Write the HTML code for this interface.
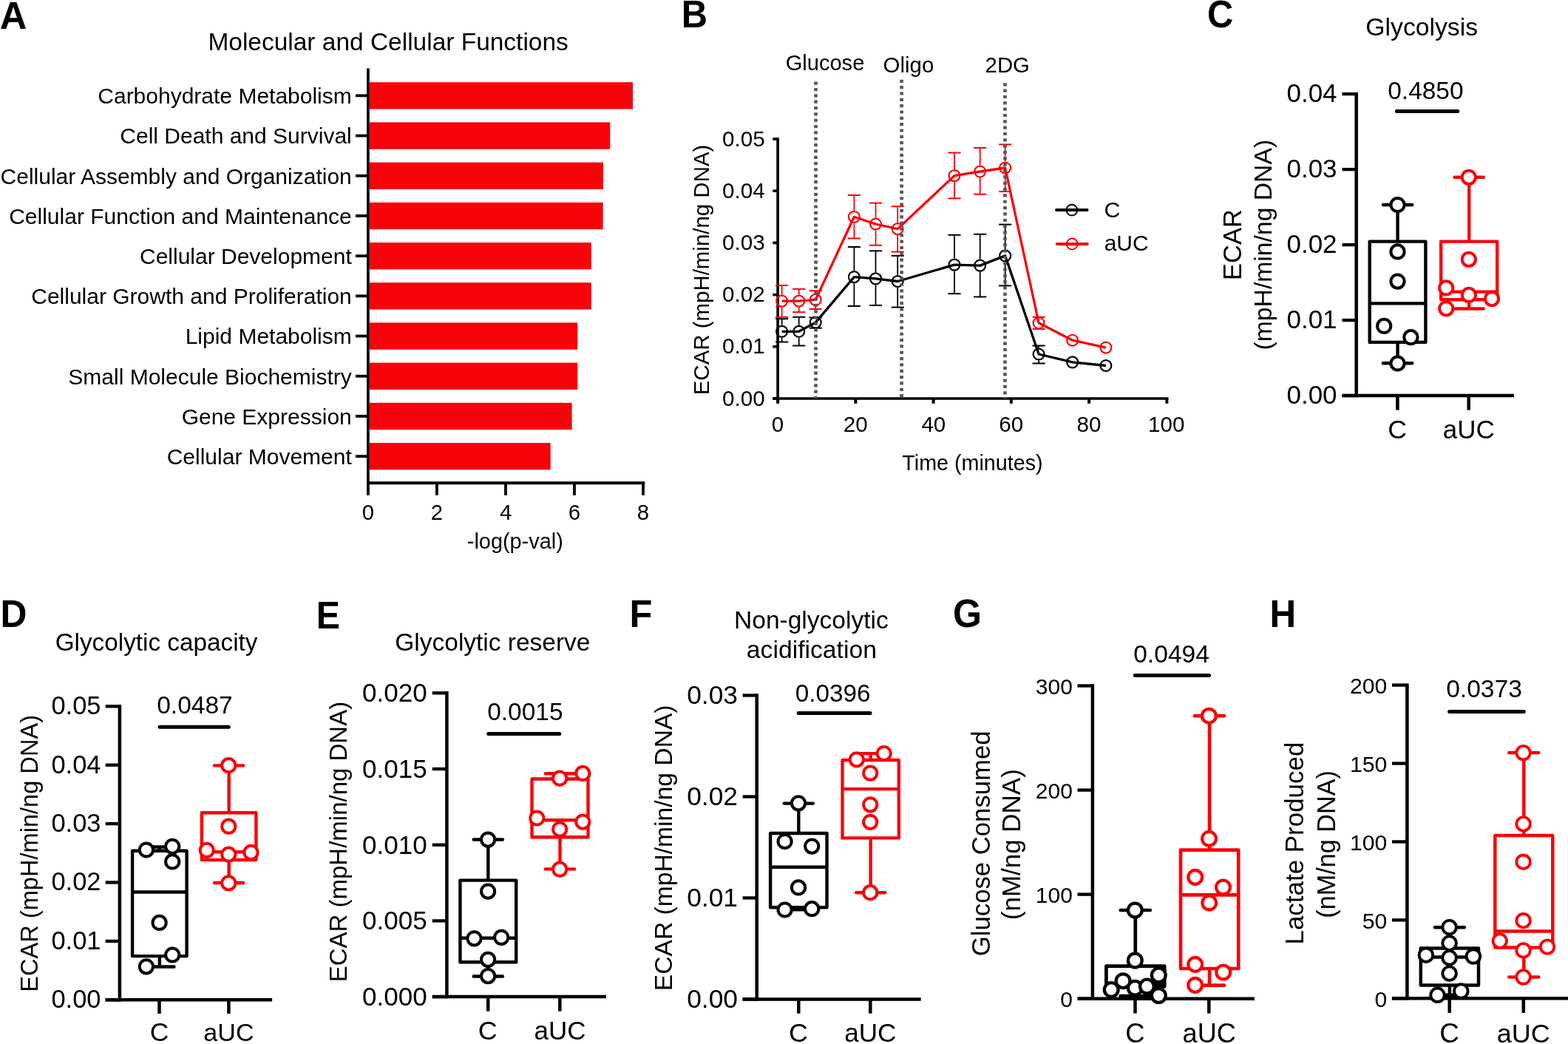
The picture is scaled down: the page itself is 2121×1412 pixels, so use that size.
<!DOCTYPE html>
<html><head><meta charset="utf-8"><title>Figure</title>
<style>html,body{margin:0;padding:0;background:#fff;overflow:hidden;}svg{display:block;}text{font-family:'Liberation Sans', Arial, Helvetica, sans-serif;}</style>
</head><body>
<svg width="2121" height="1412" viewBox="0 0 2121 1412">
<rect width="2121" height="1412" fill="#fff"/>
<rect x="499.80" y="111.20" width="356.20" height="36.30" fill="#f8030a"/>
<line x1="481.00" y1="129.35" x2="497.90" y2="129.35" stroke="#000" stroke-width="3.8" stroke-linecap="butt"/>
<rect x="499.80" y="165.40" width="325.50" height="36.30" fill="#f8030a"/>
<line x1="481.00" y1="183.55" x2="497.90" y2="183.55" stroke="#000" stroke-width="3.8" stroke-linecap="butt"/>
<rect x="499.80" y="219.60" width="316.20" height="36.30" fill="#f8030a"/>
<line x1="481.00" y1="237.75" x2="497.90" y2="237.75" stroke="#000" stroke-width="3.8" stroke-linecap="butt"/>
<rect x="499.80" y="273.80" width="315.80" height="36.30" fill="#f8030a"/>
<line x1="481.00" y1="291.95" x2="497.90" y2="291.95" stroke="#000" stroke-width="3.8" stroke-linecap="butt"/>
<rect x="499.80" y="328.00" width="300.00" height="36.30" fill="#f8030a"/>
<line x1="481.00" y1="346.15" x2="497.90" y2="346.15" stroke="#000" stroke-width="3.8" stroke-linecap="butt"/>
<rect x="499.80" y="382.20" width="300.00" height="36.30" fill="#f8030a"/>
<line x1="481.00" y1="400.35" x2="497.90" y2="400.35" stroke="#000" stroke-width="3.8" stroke-linecap="butt"/>
<rect x="499.80" y="436.40" width="281.50" height="36.30" fill="#f8030a"/>
<line x1="481.00" y1="454.55" x2="497.90" y2="454.55" stroke="#000" stroke-width="3.8" stroke-linecap="butt"/>
<rect x="499.80" y="490.60" width="281.50" height="36.30" fill="#f8030a"/>
<line x1="481.00" y1="508.75" x2="497.90" y2="508.75" stroke="#000" stroke-width="3.8" stroke-linecap="butt"/>
<rect x="499.80" y="544.80" width="273.80" height="36.30" fill="#f8030a"/>
<line x1="481.00" y1="562.95" x2="497.90" y2="562.95" stroke="#000" stroke-width="3.8" stroke-linecap="butt"/>
<rect x="499.80" y="599.00" width="244.90" height="36.30" fill="#f8030a"/>
<line x1="481.00" y1="617.15" x2="497.90" y2="617.15" stroke="#000" stroke-width="3.8" stroke-linecap="butt"/>
<line x1="497.90" y1="92.40" x2="497.90" y2="655.20" stroke="#000" stroke-width="3.8" stroke-linecap="butt"/>
<line x1="496.00" y1="653.30" x2="872.30" y2="653.30" stroke="#000" stroke-width="4" stroke-linecap="butt"/>
<line x1="497.90" y1="653.00" x2="497.90" y2="669.80" stroke="#000" stroke-width="3.8" stroke-linecap="butt"/>
<line x1="590.93" y1="653.00" x2="590.93" y2="669.80" stroke="#000" stroke-width="3.8" stroke-linecap="butt"/>
<line x1="683.96" y1="653.00" x2="683.96" y2="669.80" stroke="#000" stroke-width="3.8" stroke-linecap="butt"/>
<line x1="776.99" y1="653.00" x2="776.99" y2="669.80" stroke="#000" stroke-width="3.8" stroke-linecap="butt"/>
<line x1="870.02" y1="653.00" x2="870.02" y2="669.80" stroke="#000" stroke-width="3.8" stroke-linecap="butt"/>
<line x1="1052.10" y1="186.20" x2="1052.10" y2="540.80" stroke="#000" stroke-width="3.7" stroke-linecap="butt"/>
<line x1="1045.10" y1="539.00" x2="1580.50" y2="539.00" stroke="#000" stroke-width="3.6" stroke-linecap="butt"/>
<line x1="1045.30" y1="539.00" x2="1052.10" y2="539.00" stroke="#000" stroke-width="3.6" stroke-linecap="butt"/>
<line x1="1045.30" y1="468.80" x2="1052.10" y2="468.80" stroke="#000" stroke-width="3.6" stroke-linecap="butt"/>
<line x1="1045.30" y1="398.60" x2="1052.10" y2="398.60" stroke="#000" stroke-width="3.6" stroke-linecap="butt"/>
<line x1="1045.30" y1="328.40" x2="1052.10" y2="328.40" stroke="#000" stroke-width="3.6" stroke-linecap="butt"/>
<line x1="1045.30" y1="258.20" x2="1052.10" y2="258.20" stroke="#000" stroke-width="3.6" stroke-linecap="butt"/>
<line x1="1045.30" y1="188.00" x2="1052.10" y2="188.00" stroke="#000" stroke-width="3.6" stroke-linecap="butt"/>
<line x1="1052.10" y1="539.00" x2="1052.10" y2="545.80" stroke="#000" stroke-width="4.0" stroke-linecap="butt"/>
<line x1="1157.35" y1="539.00" x2="1157.35" y2="545.80" stroke="#000" stroke-width="4.0" stroke-linecap="butt"/>
<line x1="1262.60" y1="539.00" x2="1262.60" y2="545.80" stroke="#000" stroke-width="4.0" stroke-linecap="butt"/>
<line x1="1367.85" y1="539.00" x2="1367.85" y2="545.80" stroke="#000" stroke-width="4.0" stroke-linecap="butt"/>
<line x1="1473.10" y1="539.00" x2="1473.10" y2="545.80" stroke="#000" stroke-width="4.0" stroke-linecap="butt"/>
<line x1="1578.35" y1="539.00" x2="1578.35" y2="545.80" stroke="#000" stroke-width="4.0" stroke-linecap="butt"/>
<g stroke="#000" stroke-width="1.8"><line x1="1057.60" y1="431.20" x2="1057.60" y2="439.75"/><line x1="1057.60" y1="456.85" x2="1057.60" y2="462.50"/><line x1="1049.00" y1="431.20" x2="1066.20" y2="431.20" stroke-width="2"/><line x1="1049.00" y1="462.50" x2="1066.20" y2="462.50" stroke-width="2"/><line x1="1080.70" y1="428.80" x2="1080.70" y2="439.75"/><line x1="1080.70" y1="456.85" x2="1080.70" y2="467.50"/><line x1="1072.10" y1="428.80" x2="1089.30" y2="428.80" stroke-width="2"/><line x1="1072.10" y1="467.50" x2="1089.30" y2="467.50" stroke-width="2"/><line x1="1094.60" y1="429.50" x2="1111.80" y2="429.50" stroke-width="2"/><line x1="1094.60" y1="443.70" x2="1111.80" y2="443.70" stroke-width="2"/><line x1="1155.40" y1="334.00" x2="1155.40" y2="366.05"/><line x1="1155.40" y1="383.15" x2="1155.40" y2="414.00"/><line x1="1146.80" y1="334.00" x2="1164.00" y2="334.00" stroke-width="2"/><line x1="1146.80" y1="414.00" x2="1164.00" y2="414.00" stroke-width="2"/><line x1="1184.50" y1="339.30" x2="1184.50" y2="368.35"/><line x1="1184.50" y1="385.45" x2="1184.50" y2="413.00"/><line x1="1175.90" y1="339.30" x2="1193.10" y2="339.30" stroke-width="2"/><line x1="1175.90" y1="413.00" x2="1193.10" y2="413.00" stroke-width="2"/><line x1="1214.20" y1="345.90" x2="1214.20" y2="371.95"/><line x1="1214.20" y1="389.05" x2="1214.20" y2="415.60"/><line x1="1205.60" y1="345.90" x2="1222.80" y2="345.90" stroke-width="2"/><line x1="1205.60" y1="415.60" x2="1222.80" y2="415.60" stroke-width="2"/><line x1="1291.00" y1="317.80" x2="1291.00" y2="349.55"/><line x1="1291.00" y1="366.65" x2="1291.00" y2="397.20"/><line x1="1282.40" y1="317.80" x2="1299.60" y2="317.80" stroke-width="2"/><line x1="1282.40" y1="397.20" x2="1299.60" y2="397.20" stroke-width="2"/><line x1="1325.70" y1="316.80" x2="1325.70" y2="350.55"/><line x1="1325.70" y1="367.65" x2="1325.70" y2="401.50"/><line x1="1317.10" y1="316.80" x2="1334.30" y2="316.80" stroke-width="2"/><line x1="1317.10" y1="401.50" x2="1334.30" y2="401.50" stroke-width="2"/><line x1="1359.70" y1="303.60" x2="1359.70" y2="337.35"/><line x1="1359.70" y1="354.45" x2="1359.70" y2="386.40"/><line x1="1351.10" y1="303.60" x2="1368.30" y2="303.60" stroke-width="2"/><line x1="1351.10" y1="386.40" x2="1368.30" y2="386.40" stroke-width="2"/><line x1="1405.10" y1="467.50" x2="1405.10" y2="470.45"/><line x1="1405.10" y1="487.55" x2="1405.10" y2="491.50"/><line x1="1396.50" y1="467.50" x2="1413.70" y2="467.50" stroke-width="2"/><line x1="1396.50" y1="491.50" x2="1413.70" y2="491.50" stroke-width="2"/></g>
<g stroke="#f8030a" stroke-width="1.8"><line x1="1057.60" y1="386.00" x2="1057.60" y2="398.55"/><line x1="1057.60" y1="415.65" x2="1057.60" y2="428.80"/><line x1="1049.00" y1="386.00" x2="1066.20" y2="386.00" stroke-width="2"/><line x1="1049.00" y1="428.80" x2="1066.20" y2="428.80" stroke-width="2"/><line x1="1080.70" y1="390.90" x2="1080.70" y2="398.55"/><line x1="1080.70" y1="415.65" x2="1080.70" y2="422.20"/><line x1="1072.10" y1="390.90" x2="1089.30" y2="390.90" stroke-width="2"/><line x1="1072.10" y1="422.20" x2="1089.30" y2="422.20" stroke-width="2"/><line x1="1103.20" y1="393.20" x2="1103.20" y2="396.85"/><line x1="1103.20" y1="413.95" x2="1103.20" y2="418.00"/><line x1="1094.60" y1="393.20" x2="1111.80" y2="393.20" stroke-width="2"/><line x1="1094.60" y1="418.00" x2="1111.80" y2="418.00" stroke-width="2"/><line x1="1155.40" y1="264.00" x2="1155.40" y2="284.75"/><line x1="1155.40" y1="301.85" x2="1155.40" y2="322.40"/><line x1="1146.80" y1="264.00" x2="1164.00" y2="264.00" stroke-width="2"/><line x1="1146.80" y1="322.40" x2="1164.00" y2="322.40" stroke-width="2"/><line x1="1184.50" y1="274.60" x2="1184.50" y2="294.45"/><line x1="1184.50" y1="311.55" x2="1184.50" y2="331.70"/><line x1="1175.90" y1="274.60" x2="1193.10" y2="274.60" stroke-width="2"/><line x1="1175.90" y1="331.70" x2="1193.10" y2="331.70" stroke-width="2"/><line x1="1214.20" y1="279.20" x2="1214.20" y2="301.05"/><line x1="1214.20" y1="318.15" x2="1214.20" y2="340.60"/><line x1="1205.60" y1="279.20" x2="1222.80" y2="279.20" stroke-width="2"/><line x1="1205.60" y1="340.60" x2="1222.80" y2="340.60" stroke-width="2"/><line x1="1291.00" y1="206.60" x2="1291.00" y2="229.05"/><line x1="1291.00" y1="246.15" x2="1291.00" y2="268.30"/><line x1="1282.40" y1="206.60" x2="1299.60" y2="206.60" stroke-width="2"/><line x1="1282.40" y1="268.30" x2="1299.60" y2="268.30" stroke-width="2"/><line x1="1325.70" y1="200.00" x2="1325.70" y2="223.45"/><line x1="1325.70" y1="240.55" x2="1325.70" y2="262.70"/><line x1="1317.10" y1="200.00" x2="1334.30" y2="200.00" stroke-width="2"/><line x1="1317.10" y1="262.70" x2="1334.30" y2="262.70" stroke-width="2"/><line x1="1359.70" y1="195.40" x2="1359.70" y2="218.45"/><line x1="1359.70" y1="235.55" x2="1359.70" y2="259.00"/><line x1="1351.10" y1="195.40" x2="1368.30" y2="195.40" stroke-width="2"/><line x1="1351.10" y1="259.00" x2="1368.30" y2="259.00" stroke-width="2"/><line x1="1396.50" y1="428.80" x2="1413.70" y2="428.80" stroke-width="2"/><line x1="1396.50" y1="445.00" x2="1413.70" y2="445.00" stroke-width="2"/></g>
<polyline points="1057.60,448.30 1080.70,448.30 1103.20,436.10 1155.40,374.60 1184.50,376.90 1214.20,380.50 1291.00,358.10 1325.70,359.10 1359.70,345.90 1405.10,479.00 1450.70,489.90 1495.90,494.50" fill="none" stroke="#000" stroke-width="3.3" stroke-linejoin="round"/>
<circle cx="1057.60" cy="448.30" r="7.45" stroke="#000" stroke-width="2.2" fill="none"/>
<circle cx="1080.70" cy="448.30" r="7.45" stroke="#000" stroke-width="2.2" fill="none"/>
<circle cx="1103.20" cy="436.10" r="7.45" stroke="#000" stroke-width="2.2" fill="none"/>
<circle cx="1155.40" cy="374.60" r="7.45" stroke="#000" stroke-width="2.2" fill="none"/>
<circle cx="1184.50" cy="376.90" r="7.45" stroke="#000" stroke-width="2.2" fill="none"/>
<circle cx="1214.20" cy="380.50" r="7.45" stroke="#000" stroke-width="2.2" fill="none"/>
<circle cx="1291.00" cy="358.10" r="7.45" stroke="#000" stroke-width="2.2" fill="none"/>
<circle cx="1325.70" cy="359.10" r="7.45" stroke="#000" stroke-width="2.2" fill="none"/>
<circle cx="1359.70" cy="345.90" r="7.45" stroke="#000" stroke-width="2.2" fill="none"/>
<circle cx="1405.10" cy="479.00" r="7.45" stroke="#000" stroke-width="2.2" fill="none"/>
<circle cx="1450.70" cy="489.90" r="7.45" stroke="#000" stroke-width="2.2" fill="none"/>
<circle cx="1495.90" cy="494.50" r="7.45" stroke="#000" stroke-width="2.2" fill="none"/>
<polyline points="1057.60,407.10 1080.70,407.10 1103.20,405.40 1155.40,293.30 1184.50,303.00 1214.20,309.60 1291.00,237.60 1325.70,232.00 1359.70,227.00 1405.10,436.80 1450.70,460.20 1495.90,470.10" fill="none" stroke="#f8030a" stroke-width="3.3" stroke-linejoin="round"/>
<circle cx="1057.60" cy="407.10" r="7.45" stroke="#f8030a" stroke-width="2.2" fill="none"/>
<circle cx="1080.70" cy="407.10" r="7.45" stroke="#f8030a" stroke-width="2.2" fill="none"/>
<circle cx="1103.20" cy="405.40" r="7.45" stroke="#f8030a" stroke-width="2.2" fill="none"/>
<circle cx="1155.40" cy="293.30" r="7.45" stroke="#f8030a" stroke-width="2.2" fill="none"/>
<circle cx="1184.50" cy="303.00" r="7.45" stroke="#f8030a" stroke-width="2.2" fill="none"/>
<circle cx="1214.20" cy="309.60" r="7.45" stroke="#f8030a" stroke-width="2.2" fill="none"/>
<circle cx="1291.00" cy="237.60" r="7.45" stroke="#f8030a" stroke-width="2.2" fill="none"/>
<circle cx="1325.70" cy="232.00" r="7.45" stroke="#f8030a" stroke-width="2.2" fill="none"/>
<circle cx="1359.70" cy="227.00" r="7.45" stroke="#f8030a" stroke-width="2.2" fill="none"/>
<circle cx="1405.10" cy="436.80" r="7.45" stroke="#f8030a" stroke-width="2.2" fill="none"/>
<circle cx="1450.70" cy="460.20" r="7.45" stroke="#f8030a" stroke-width="2.2" fill="none"/>
<circle cx="1495.90" cy="470.10" r="7.45" stroke="#f8030a" stroke-width="2.2" fill="none"/>
<line x1="1103.50" y1="110.60" x2="1103.50" y2="539.00" stroke="#575757" stroke-width="4.7" stroke-linecap="butt" stroke-dasharray="4.2 4.14"/>
<line x1="1219.60" y1="107.70" x2="1219.60" y2="539.00" stroke="#575757" stroke-width="4.7" stroke-linecap="butt" stroke-dasharray="4.2 4.14"/>
<line x1="1359.50" y1="112.20" x2="1359.50" y2="539.00" stroke="#575757" stroke-width="4.7" stroke-linecap="butt" stroke-dasharray="4.2 4.14"/>
<line x1="1429.00" y1="284.10" x2="1470.60" y2="284.10" stroke="#000" stroke-width="4" stroke-linecap="round"/>
<circle cx="1449.90" cy="284.10" r="7.4" stroke="#000" stroke-width="2" fill="none"/>
<line x1="1429.70" y1="330.00" x2="1470.90" y2="330.00" stroke="#f8030a" stroke-width="4" stroke-linecap="round"/>
<circle cx="1450.20" cy="330.00" r="7.4" stroke="#f8030a" stroke-width="2" fill="none"/>
<line x1="1834.70" y1="124.90" x2="1834.70" y2="537.35" stroke="#000" stroke-width="4.5" stroke-linecap="butt"/>
<line x1="1815.70" y1="535.10" x2="2047.90" y2="535.10" stroke="#000" stroke-width="4.5" stroke-linecap="butt"/>
<line x1="1815.50" y1="535.10" x2="1834.70" y2="535.10" stroke="#000" stroke-width="4.3" stroke-linecap="butt"/>
<line x1="1815.50" y1="433.10" x2="1834.70" y2="433.10" stroke="#000" stroke-width="4.3" stroke-linecap="butt"/>
<line x1="1815.50" y1="331.10" x2="1834.70" y2="331.10" stroke="#000" stroke-width="4.3" stroke-linecap="butt"/>
<line x1="1815.50" y1="229.10" x2="1834.70" y2="229.10" stroke="#000" stroke-width="4.3" stroke-linecap="butt"/>
<line x1="1815.50" y1="127.10" x2="1834.70" y2="127.10" stroke="#000" stroke-width="4.3" stroke-linecap="butt"/>
<line x1="1890.40" y1="535.10" x2="1890.40" y2="554.60" stroke="#000" stroke-width="4.5" stroke-linecap="butt"/>
<line x1="1986.70" y1="535.10" x2="1986.70" y2="554.60" stroke="#000" stroke-width="4.5" stroke-linecap="butt"/>
<line x1="1889.40" y1="150.40" x2="1971.80" y2="150.40" stroke="#000" stroke-width="5" stroke-linecap="round"/>
<g stroke="#000" stroke-width="4.4"><line x1="1890.55" y1="277.00" x2="1890.55" y2="326.60"/><line x1="1890.55" y1="462.90" x2="1890.55" y2="491.30"/><line x1="1870.95" y1="277.00" x2="1910.15" y2="277.00" stroke-linecap="round"/><line x1="1870.95" y1="491.30" x2="1910.15" y2="491.30" stroke-linecap="round"/><rect x="1852.70" y="326.60" width="75.70" height="136.30" fill="none" stroke-linejoin="round"/><line x1="1852.70" y1="410.40" x2="1928.40" y2="410.40"/></g>
<circle cx="1890.50" cy="277.00" r="9.1" stroke="#000" stroke-width="4.0" fill="#fff"/>
<circle cx="1890.50" cy="340.40" r="9.1" stroke="#000" stroke-width="4.0" fill="#fff"/>
<circle cx="1890.50" cy="380.60" r="9.1" stroke="#000" stroke-width="4.0" fill="#fff"/>
<circle cx="1872.20" cy="440.90" r="9.1" stroke="#000" stroke-width="4.0" fill="#fff"/>
<circle cx="1908.40" cy="456.20" r="9.1" stroke="#000" stroke-width="4.0" fill="#fff"/>
<circle cx="1890.50" cy="491.50" r="9.1" stroke="#000" stroke-width="4.0" fill="#fff"/>
<g stroke="#f8030a" stroke-width="4.4"><line x1="1987.20" y1="239.80" x2="1987.20" y2="326.60"/><line x1="1987.20" y1="405.20" x2="1987.20" y2="417.50"/><line x1="1967.60" y1="239.80" x2="2006.80" y2="239.80" stroke-linecap="round"/><line x1="1967.60" y1="417.50" x2="2006.80" y2="417.50" stroke-linecap="round"/><rect x="1949.20" y="326.60" width="76.00" height="78.60" fill="none" stroke-linejoin="round"/><line x1="1949.20" y1="394.60" x2="2025.20" y2="394.60"/></g>
<circle cx="1986.80" cy="239.80" r="9.1" stroke="#f8030a" stroke-width="4.0" fill="#fff"/>
<circle cx="1986.80" cy="350.80" r="9.1" stroke="#f8030a" stroke-width="4.0" fill="#fff"/>
<circle cx="1956.20" cy="389.40" r="9.1" stroke="#f8030a" stroke-width="4.0" fill="#fff"/>
<circle cx="1986.90" cy="398.90" r="9.1" stroke="#f8030a" stroke-width="4.0" fill="#fff"/>
<circle cx="2018.00" cy="404.10" r="9.1" stroke="#f8030a" stroke-width="4.0" fill="#fff"/>
<circle cx="1956.20" cy="417.30" r="9.1" stroke="#f8030a" stroke-width="4.0" fill="#fff"/>
<line x1="161.90" y1="953.10" x2="161.90" y2="1354.55" stroke="#000" stroke-width="4.5" stroke-linecap="butt"/>
<line x1="142.40" y1="1352.30" x2="368.10" y2="1352.30" stroke="#000" stroke-width="4.5" stroke-linecap="butt"/>
<line x1="142.70" y1="1352.30" x2="161.90" y2="1352.30" stroke="#000" stroke-width="4.3" stroke-linecap="butt"/>
<line x1="142.70" y1="1272.90" x2="161.90" y2="1272.90" stroke="#000" stroke-width="4.3" stroke-linecap="butt"/>
<line x1="142.70" y1="1193.50" x2="161.90" y2="1193.50" stroke="#000" stroke-width="4.3" stroke-linecap="butt"/>
<line x1="142.70" y1="1114.10" x2="161.90" y2="1114.10" stroke="#000" stroke-width="4.3" stroke-linecap="butt"/>
<line x1="142.70" y1="1034.70" x2="161.90" y2="1034.70" stroke="#000" stroke-width="4.3" stroke-linecap="butt"/>
<line x1="142.70" y1="955.30" x2="161.90" y2="955.30" stroke="#000" stroke-width="4.3" stroke-linecap="butt"/>
<line x1="215.50" y1="1352.30" x2="215.50" y2="1371.00" stroke="#000" stroke-width="4.5" stroke-linecap="butt"/>
<line x1="309.40" y1="1352.30" x2="309.40" y2="1371.00" stroke="#000" stroke-width="4.5" stroke-linecap="butt"/>
<line x1="216.00" y1="983.20" x2="309.30" y2="983.20" stroke="#000" stroke-width="5" stroke-linecap="round"/>
<g stroke="#000" stroke-width="4.4"><line x1="215.85" y1="1145.50" x2="215.85" y2="1150.70"/><line x1="215.85" y1="1293.10" x2="215.85" y2="1307.50"/><line x1="196.25" y1="1145.50" x2="235.45" y2="1145.50" stroke-linecap="round"/><line x1="196.25" y1="1307.50" x2="235.45" y2="1307.50" stroke-linecap="round"/><rect x="179.10" y="1150.70" width="73.50" height="142.40" fill="none" stroke-linejoin="round"/><line x1="179.10" y1="1206.50" x2="252.60" y2="1206.50"/></g>
<circle cx="197.90" cy="1149.50" r="9.1" stroke="#000" stroke-width="4.0" fill="#fff"/>
<circle cx="233.20" cy="1144.80" r="9.1" stroke="#000" stroke-width="4.0" fill="#fff"/>
<circle cx="233.20" cy="1165.40" r="9.1" stroke="#000" stroke-width="4.0" fill="#fff"/>
<circle cx="215.60" cy="1247.90" r="9.1" stroke="#000" stroke-width="4.0" fill="#fff"/>
<circle cx="233.20" cy="1291.50" r="9.1" stroke="#000" stroke-width="4.0" fill="#fff"/>
<circle cx="197.90" cy="1307.30" r="9.1" stroke="#000" stroke-width="4.0" fill="#fff"/>
<g stroke="#f8030a" stroke-width="4.4"><line x1="309.65" y1="1035.40" x2="309.65" y2="1099.30"/><line x1="309.65" y1="1163.00" x2="309.65" y2="1194.00"/><line x1="290.05" y1="1035.40" x2="329.25" y2="1035.40" stroke-linecap="round"/><line x1="290.05" y1="1194.00" x2="329.25" y2="1194.00" stroke-linecap="round"/><rect x="272.90" y="1099.30" width="73.50" height="63.70" fill="none" stroke-linejoin="round"/><line x1="272.90" y1="1152.20" x2="346.40" y2="1152.20"/></g>
<circle cx="309.30" cy="1035.20" r="9.1" stroke="#f8030a" stroke-width="4.0" fill="#fff"/>
<circle cx="309.30" cy="1117.70" r="9.1" stroke="#f8030a" stroke-width="4.0" fill="#fff"/>
<circle cx="279.70" cy="1149.90" r="9.1" stroke="#f8030a" stroke-width="4.0" fill="#fff"/>
<circle cx="309.30" cy="1155.60" r="9.1" stroke="#f8030a" stroke-width="4.0" fill="#fff"/>
<circle cx="339.50" cy="1152.90" r="9.1" stroke="#f8030a" stroke-width="4.0" fill="#fff"/>
<circle cx="309.30" cy="1194.30" r="9.1" stroke="#f8030a" stroke-width="4.0" fill="#fff"/>
<line x1="604.40" y1="935.10" x2="604.40" y2="1350.35" stroke="#000" stroke-width="4.5" stroke-linecap="butt"/>
<line x1="584.80" y1="1348.10" x2="819.90" y2="1348.10" stroke="#000" stroke-width="4.5" stroke-linecap="butt"/>
<line x1="584.80" y1="1348.10" x2="604.40" y2="1348.10" stroke="#000" stroke-width="4.3" stroke-linecap="butt"/>
<line x1="584.80" y1="1245.40" x2="604.40" y2="1245.40" stroke="#000" stroke-width="4.3" stroke-linecap="butt"/>
<line x1="584.80" y1="1142.70" x2="604.40" y2="1142.70" stroke="#000" stroke-width="4.3" stroke-linecap="butt"/>
<line x1="584.80" y1="1040.00" x2="604.40" y2="1040.00" stroke="#000" stroke-width="4.3" stroke-linecap="butt"/>
<line x1="584.80" y1="937.30" x2="604.40" y2="937.30" stroke="#000" stroke-width="4.3" stroke-linecap="butt"/>
<line x1="660.20" y1="1348.10" x2="660.20" y2="1367.70" stroke="#000" stroke-width="4.5" stroke-linecap="butt"/>
<line x1="757.30" y1="1348.10" x2="757.30" y2="1367.70" stroke="#000" stroke-width="4.5" stroke-linecap="butt"/>
<line x1="660.70" y1="992.40" x2="756.80" y2="992.40" stroke="#000" stroke-width="5" stroke-linecap="round"/>
<g stroke="#000" stroke-width="4.4"><line x1="660.30" y1="1135.50" x2="660.30" y2="1190.60"/><line x1="660.30" y1="1301.30" x2="660.30" y2="1320.50"/><line x1="640.70" y1="1135.50" x2="679.90" y2="1135.50" stroke-linecap="round"/><line x1="640.70" y1="1320.50" x2="679.90" y2="1320.50" stroke-linecap="round"/><rect x="622.40" y="1190.60" width="75.80" height="110.70" fill="none" stroke-linejoin="round"/><line x1="622.40" y1="1268.80" x2="698.20" y2="1268.80"/></g>
<circle cx="660.10" cy="1135.60" r="9.1" stroke="#000" stroke-width="4.0" fill="#fff"/>
<circle cx="660.10" cy="1205.60" r="9.1" stroke="#000" stroke-width="4.0" fill="#fff"/>
<circle cx="641.50" cy="1269.30" r="9.1" stroke="#000" stroke-width="4.0" fill="#fff"/>
<circle cx="678.20" cy="1267.80" r="9.1" stroke="#000" stroke-width="4.0" fill="#fff"/>
<circle cx="660.10" cy="1297.80" r="9.1" stroke="#000" stroke-width="4.0" fill="#fff"/>
<circle cx="660.10" cy="1320.10" r="9.1" stroke="#000" stroke-width="4.0" fill="#fff"/>
<g stroke="#f8030a" stroke-width="4.4"><line x1="757.50" y1="1046.20" x2="757.50" y2="1053.50"/><line x1="757.50" y1="1132.30" x2="757.50" y2="1175.40"/><line x1="737.90" y1="1046.20" x2="777.10" y2="1046.20" stroke-linecap="round"/><line x1="737.90" y1="1175.40" x2="777.10" y2="1175.40" stroke-linecap="round"/><rect x="719.50" y="1053.50" width="76.00" height="78.80" fill="none" stroke-linejoin="round"/><line x1="719.50" y1="1109.20" x2="795.50" y2="1109.20"/></g>
<circle cx="757.20" cy="1052.70" r="9.1" stroke="#f8030a" stroke-width="4.0" fill="#fff"/>
<circle cx="788.30" cy="1045.90" r="9.1" stroke="#f8030a" stroke-width="4.0" fill="#fff"/>
<circle cx="726.30" cy="1106.50" r="9.1" stroke="#f8030a" stroke-width="4.0" fill="#fff"/>
<circle cx="788.30" cy="1111.60" r="9.1" stroke="#f8030a" stroke-width="4.0" fill="#fff"/>
<circle cx="757.20" cy="1121.60" r="9.1" stroke="#f8030a" stroke-width="4.0" fill="#fff"/>
<circle cx="757.20" cy="1175.70" r="9.1" stroke="#f8030a" stroke-width="4.0" fill="#fff"/>
<line x1="1023.70" y1="938.30" x2="1023.70" y2="1353.65" stroke="#000" stroke-width="4.5" stroke-linecap="butt"/>
<line x1="1004.60" y1="1351.40" x2="1245.70" y2="1351.40" stroke="#000" stroke-width="4.5" stroke-linecap="butt"/>
<line x1="1004.60" y1="1351.40" x2="1023.70" y2="1351.40" stroke="#000" stroke-width="4.3" stroke-linecap="butt"/>
<line x1="1004.60" y1="1214.43" x2="1023.70" y2="1214.43" stroke="#000" stroke-width="4.3" stroke-linecap="butt"/>
<line x1="1004.60" y1="1077.47" x2="1023.70" y2="1077.47" stroke="#000" stroke-width="4.3" stroke-linecap="butt"/>
<line x1="1004.60" y1="940.50" x2="1023.70" y2="940.50" stroke="#000" stroke-width="4.3" stroke-linecap="butt"/>
<line x1="1080.30" y1="1351.40" x2="1080.30" y2="1370.70" stroke="#000" stroke-width="4.5" stroke-linecap="butt"/>
<line x1="1177.30" y1="1351.40" x2="1177.30" y2="1370.70" stroke="#000" stroke-width="4.5" stroke-linecap="butt"/>
<line x1="1080.20" y1="964.50" x2="1177.00" y2="964.50" stroke="#000" stroke-width="5" stroke-linecap="round"/>
<g stroke="#000" stroke-width="4.4"><line x1="1080.30" y1="1086.60" x2="1080.30" y2="1127.00"/><line x1="1080.30" y1="1227.30" x2="1080.30" y2="1230.40"/><line x1="1060.70" y1="1086.60" x2="1099.90" y2="1086.60" stroke-linecap="round"/><line x1="1060.70" y1="1230.40" x2="1099.90" y2="1230.40" stroke-linecap="round"/><rect x="1042.10" y="1127.00" width="76.40" height="100.30" fill="none" stroke-linejoin="round"/><line x1="1042.10" y1="1172.70" x2="1118.50" y2="1172.70"/></g>
<circle cx="1080.00" cy="1086.30" r="9.1" stroke="#000" stroke-width="4.0" fill="#fff"/>
<circle cx="1061.60" cy="1138.00" r="9.1" stroke="#000" stroke-width="4.0" fill="#fff"/>
<circle cx="1098.20" cy="1144.60" r="9.1" stroke="#000" stroke-width="4.0" fill="#fff"/>
<circle cx="1080.00" cy="1200.40" r="9.1" stroke="#000" stroke-width="4.0" fill="#fff"/>
<circle cx="1061.60" cy="1230.50" r="9.1" stroke="#000" stroke-width="4.0" fill="#fff"/>
<circle cx="1098.20" cy="1229.20" r="9.1" stroke="#000" stroke-width="4.0" fill="#fff"/>
<g stroke="#f8030a" stroke-width="4.4"><line x1="1177.65" y1="1019.10" x2="1177.65" y2="1028.00"/><line x1="1177.65" y1="1133.40" x2="1177.65" y2="1207.20"/><line x1="1158.05" y1="1019.10" x2="1197.25" y2="1019.10" stroke-linecap="round"/><line x1="1158.05" y1="1207.20" x2="1197.25" y2="1207.20" stroke-linecap="round"/><rect x="1139.50" y="1028.00" width="76.30" height="105.40" fill="none" stroke-linejoin="round"/><line x1="1139.50" y1="1067.10" x2="1215.80" y2="1067.10"/></g>
<circle cx="1158.80" cy="1027.30" r="9.1" stroke="#f8030a" stroke-width="4.0" fill="#fff"/>
<circle cx="1195.70" cy="1019.00" r="9.1" stroke="#f8030a" stroke-width="4.0" fill="#fff"/>
<circle cx="1177.20" cy="1045.60" r="9.1" stroke="#f8030a" stroke-width="4.0" fill="#fff"/>
<circle cx="1177.20" cy="1088.30" r="9.1" stroke="#f8030a" stroke-width="4.0" fill="#fff"/>
<circle cx="1177.20" cy="1111.80" r="9.1" stroke="#f8030a" stroke-width="4.0" fill="#fff"/>
<circle cx="1177.20" cy="1207.20" r="9.1" stroke="#f8030a" stroke-width="4.0" fill="#fff"/>
<line x1="1477.90" y1="925.30" x2="1477.90" y2="1352.95" stroke="#000" stroke-width="4.5" stroke-linecap="butt"/>
<line x1="1457.70" y1="1350.70" x2="1696.80" y2="1350.70" stroke="#000" stroke-width="4.5" stroke-linecap="butt"/>
<line x1="1457.50" y1="1350.70" x2="1477.90" y2="1350.70" stroke="#000" stroke-width="4.3" stroke-linecap="butt"/>
<line x1="1457.50" y1="1209.63" x2="1477.90" y2="1209.63" stroke="#000" stroke-width="4.3" stroke-linecap="butt"/>
<line x1="1457.50" y1="1068.57" x2="1477.90" y2="1068.57" stroke="#000" stroke-width="4.3" stroke-linecap="butt"/>
<line x1="1457.50" y1="927.50" x2="1477.90" y2="927.50" stroke="#000" stroke-width="4.3" stroke-linecap="butt"/>
<line x1="1535.50" y1="1350.70" x2="1535.50" y2="1370.60" stroke="#000" stroke-width="4.5" stroke-linecap="butt"/>
<line x1="1635.30" y1="1350.70" x2="1635.30" y2="1370.60" stroke="#000" stroke-width="4.5" stroke-linecap="butt"/>
<line x1="1535.30" y1="913.40" x2="1635.50" y2="913.40" stroke="#000" stroke-width="5" stroke-linecap="round"/>
<g stroke="#000" stroke-width="4.7"><line x1="1535.80" y1="1231.00" x2="1535.80" y2="1306.60"/><line x1="1535.80" y1="1334.40" x2="1535.80" y2="1347.20"/><line x1="1515.80" y1="1231.00" x2="1555.80" y2="1231.00" stroke-linecap="round"/><line x1="1515.80" y1="1347.20" x2="1555.80" y2="1347.20" stroke-linecap="round"/><rect x="1496.40" y="1306.60" width="78.80" height="27.80" fill="none" stroke-linejoin="round"/><line x1="1496.40" y1="1331.00" x2="1575.20" y2="1331.00"/></g>
<circle cx="1535.30" cy="1231.00" r="9.4" stroke="#000" stroke-width="4.3" fill="#fff"/>
<circle cx="1535.30" cy="1299.00" r="9.4" stroke="#000" stroke-width="4.3" fill="#fff"/>
<circle cx="1519.10" cy="1326.70" r="9.4" stroke="#000" stroke-width="4.3" fill="#fff"/>
<circle cx="1567.30" cy="1318.80" r="9.4" stroke="#000" stroke-width="4.3" fill="#fff"/>
<circle cx="1503.20" cy="1338.60" r="9.4" stroke="#000" stroke-width="4.3" fill="#fff"/>
<circle cx="1535.30" cy="1336.30" r="9.4" stroke="#000" stroke-width="4.3" fill="#fff"/>
<circle cx="1551.40" cy="1334.10" r="9.4" stroke="#000" stroke-width="4.3" fill="#fff"/>
<circle cx="1567.30" cy="1346.50" r="9.4" stroke="#000" stroke-width="4.3" fill="#fff"/>
<g stroke="#f8030a" stroke-width="4.7"><line x1="1636.10" y1="968.20" x2="1636.10" y2="1149.70"/><line x1="1636.10" y1="1310.00" x2="1636.10" y2="1332.70"/><line x1="1616.10" y1="968.20" x2="1656.10" y2="968.20" stroke-linecap="round"/><line x1="1616.10" y1="1332.70" x2="1656.10" y2="1332.70" stroke-linecap="round"/><rect x="1597.00" y="1149.70" width="78.20" height="160.30" fill="none" stroke-linejoin="round"/><line x1="1597.00" y1="1210.30" x2="1675.20" y2="1210.30"/></g>
<circle cx="1635.40" cy="968.20" r="9.4" stroke="#f8030a" stroke-width="4.3" fill="#fff"/>
<circle cx="1635.50" cy="1134.30" r="9.4" stroke="#f8030a" stroke-width="4.3" fill="#fff"/>
<circle cx="1616.80" cy="1186.40" r="9.4" stroke="#f8030a" stroke-width="4.3" fill="#fff"/>
<circle cx="1654.50" cy="1200.00" r="9.4" stroke="#f8030a" stroke-width="4.3" fill="#fff"/>
<circle cx="1635.70" cy="1221.10" r="9.4" stroke="#f8030a" stroke-width="4.3" fill="#fff"/>
<circle cx="1616.70" cy="1304.40" r="9.4" stroke="#f8030a" stroke-width="4.3" fill="#fff"/>
<circle cx="1654.70" cy="1315.00" r="9.4" stroke="#f8030a" stroke-width="4.3" fill="#fff"/>
<circle cx="1616.70" cy="1332.40" r="9.4" stroke="#f8030a" stroke-width="4.3" fill="#fff"/>
<line x1="1903.40" y1="924.40" x2="1903.40" y2="1352.55" stroke="#000" stroke-width="4.5" stroke-linecap="butt"/>
<line x1="1882.90" y1="1350.30" x2="2121.00" y2="1350.30" stroke="#000" stroke-width="4.5" stroke-linecap="butt"/>
<line x1="1883.00" y1="1350.30" x2="1903.40" y2="1350.30" stroke="#000" stroke-width="4.3" stroke-linecap="butt"/>
<line x1="1883.00" y1="1244.38" x2="1903.40" y2="1244.38" stroke="#000" stroke-width="4.3" stroke-linecap="butt"/>
<line x1="1883.00" y1="1138.45" x2="1903.40" y2="1138.45" stroke="#000" stroke-width="4.3" stroke-linecap="butt"/>
<line x1="1883.00" y1="1032.53" x2="1903.40" y2="1032.53" stroke="#000" stroke-width="4.3" stroke-linecap="butt"/>
<line x1="1883.00" y1="926.60" x2="1903.40" y2="926.60" stroke="#000" stroke-width="4.3" stroke-linecap="butt"/>
<line x1="1960.70" y1="1350.30" x2="1960.70" y2="1369.90" stroke="#000" stroke-width="4.5" stroke-linecap="butt"/>
<line x1="2060.80" y1="1350.30" x2="2060.80" y2="1369.90" stroke="#000" stroke-width="4.5" stroke-linecap="butt"/>
<line x1="1960.60" y1="962.50" x2="2061.30" y2="962.50" stroke="#000" stroke-width="5" stroke-linecap="round"/>
<g stroke="#000" stroke-width="4.5"><line x1="1960.90" y1="1254.20" x2="1960.90" y2="1282.40"/><line x1="1960.90" y1="1332.50" x2="1960.90" y2="1345.70"/><line x1="1940.90" y1="1254.20" x2="1980.90" y2="1254.20" stroke-linecap="round"/><line x1="1940.90" y1="1345.70" x2="1980.90" y2="1345.70" stroke-linecap="round"/><rect x="1921.80" y="1282.40" width="78.20" height="50.10" fill="none" stroke-linejoin="round"/><line x1="1921.80" y1="1294.50" x2="2000.00" y2="1294.50"/></g>
<circle cx="1960.60" cy="1254.10" r="9.25" stroke="#000" stroke-width="3.9" fill="#fff"/>
<circle cx="1960.60" cy="1275.60" r="9.25" stroke="#000" stroke-width="3.9" fill="#fff"/>
<circle cx="1928.90" cy="1291.70" r="9.25" stroke="#000" stroke-width="3.9" fill="#fff"/>
<circle cx="1960.60" cy="1295.40" r="9.25" stroke="#000" stroke-width="3.9" fill="#fff"/>
<circle cx="1992.90" cy="1293.50" r="9.25" stroke="#000" stroke-width="3.9" fill="#fff"/>
<circle cx="1960.60" cy="1316.60" r="9.25" stroke="#000" stroke-width="3.9" fill="#fff"/>
<circle cx="1944.50" cy="1345.80" r="9.25" stroke="#000" stroke-width="3.9" fill="#fff"/>
<circle cx="1976.30" cy="1340.50" r="9.25" stroke="#000" stroke-width="3.9" fill="#fff"/>
<g stroke="#f8030a" stroke-width="4.5"><line x1="2061.30" y1="1018.10" x2="2061.30" y2="1130.00"/><line x1="2061.30" y1="1281.50" x2="2061.30" y2="1321.50"/><line x1="2041.30" y1="1018.10" x2="2081.30" y2="1018.10" stroke-linecap="round"/><line x1="2041.30" y1="1321.50" x2="2081.30" y2="1321.50" stroke-linecap="round"/><rect x="2022.30" y="1130.00" width="78.00" height="151.50" fill="none" stroke-linejoin="round"/><line x1="2022.30" y1="1259.60" x2="2100.30" y2="1259.60"/></g>
<circle cx="2060.60" cy="1018.10" r="9.25" stroke="#f8030a" stroke-width="3.9" fill="#fff"/>
<circle cx="2060.60" cy="1114.40" r="9.25" stroke="#f8030a" stroke-width="3.9" fill="#fff"/>
<circle cx="2060.60" cy="1165.70" r="9.25" stroke="#f8030a" stroke-width="3.9" fill="#fff"/>
<circle cx="2060.60" cy="1245.20" r="9.25" stroke="#f8030a" stroke-width="3.9" fill="#fff"/>
<circle cx="2028.80" cy="1272.60" r="9.25" stroke="#f8030a" stroke-width="3.9" fill="#fff"/>
<circle cx="2060.60" cy="1285.40" r="9.25" stroke="#f8030a" stroke-width="3.9" fill="#fff"/>
<circle cx="2093.10" cy="1280.60" r="9.25" stroke="#f8030a" stroke-width="3.9" fill="#fff"/>
<circle cx="2060.60" cy="1321.50" r="9.25" stroke="#f8030a" stroke-width="3.9" fill="#fff"/>
<text transform="translate(-0.17 38.64) scale(0.50746 0.51799)" x="0" y="0" font-size="100" font-weight="bold" fill="#000">A</text>
<text x="281.42" y="68.00" font-size="33.486" fill="#000">Molecular and Cellular Functions</text>
<text x="475.79" y="140.20" font-size="30.000" text-anchor="end" fill="#000">Carbohydrate Metabolism</text>
<text x="475.79" y="194.40" font-size="30.000" text-anchor="end" fill="#000">Cell Death and Survival</text>
<text x="475.79" y="248.60" font-size="30.000" text-anchor="end" fill="#000">Cellular Assembly and Organization</text>
<text x="475.79" y="302.80" font-size="30.000" text-anchor="end" fill="#000">Cellular Function and Maintenance</text>
<text x="475.79" y="357.00" font-size="30.000" text-anchor="end" fill="#000">Cellular Development</text>
<text x="475.79" y="411.20" font-size="30.000" text-anchor="end" fill="#000">Cellular Growth and Proliferation</text>
<text x="475.79" y="465.40" font-size="30.000" text-anchor="end" fill="#000">Lipid Metabolism</text>
<text x="475.79" y="519.60" font-size="30.000" text-anchor="end" fill="#000">Small Molecule Biochemistry</text>
<text x="475.79" y="573.80" font-size="30.000" text-anchor="end" fill="#000">Gene Expression</text>
<text x="475.79" y="628.00" font-size="30.000" text-anchor="end" fill="#000">Cellular Movement</text>
<text x="489.70" y="702.60" font-size="29.300" fill="#000">0</text>
<text x="582.80" y="702.60" font-size="29.300" fill="#000">2</text>
<text x="675.98" y="702.60" font-size="29.300" fill="#000">4</text>
<text x="768.71" y="702.60" font-size="29.300" fill="#000">6</text>
<text x="861.82" y="702.60" font-size="29.300" fill="#000">8</text>
<text x="631.80" y="741.80" font-size="28.896" fill="#000">-log(p-val)</text>
<text transform="translate(921.82 37.00) scale(0.48852 0.52174)" x="0" y="0" font-size="100" font-weight="bold" fill="#000">B</text>
<text x="1062.65" y="95.10" font-size="29.091" fill="#000">Glucose</text>
<text x="1194.57" y="98.00" font-size="29.467" fill="#000">Oligo</text>
<text x="1332.58" y="97.80" font-size="29.352" fill="#000">2DG</text>
<text x="1034.72" y="548.60" font-size="29.600" text-anchor="end" fill="#000">0.00</text>
<text x="1034.72" y="478.40" font-size="29.600" text-anchor="end" fill="#000">0.01</text>
<text x="1034.72" y="408.20" font-size="29.600" text-anchor="end" fill="#000">0.02</text>
<text x="1034.72" y="338.00" font-size="29.600" text-anchor="end" fill="#000">0.03</text>
<text x="1034.72" y="267.80" font-size="29.600" text-anchor="end" fill="#000">0.04</text>
<text x="1034.72" y="197.60" font-size="29.600" text-anchor="end" fill="#000">0.05</text>
<text x="1043.81" y="583.60" font-size="29.600" fill="#000">0</text>
<text x="1140.70" y="583.60" font-size="29.600" fill="#000">20</text>
<text x="1246.39" y="583.60" font-size="29.600" fill="#000">40</text>
<text x="1351.20" y="583.60" font-size="29.600" fill="#000">60</text>
<text x="1456.52" y="583.60" font-size="29.600" fill="#000">80</text>
<text x="1553.12" y="583.60" font-size="29.600" fill="#000">100</text>
<text x="1220.33" y="636.40" font-size="28.718" fill="#000">Time (minutes)</text>
<text transform="translate(958.90 534.26) rotate(-90)" x="0" y="0" font-size="29.454" fill="#000">ECAR (mpH/min/ng DNA)</text>
<text x="1493.38" y="293.60" font-size="30.300" fill="#000">C</text>
<text x="1493.70" y="339.40" font-size="30.000" fill="#000">aUC</text>
<text x="1808.60" y="546.20" font-size="35.000" text-anchor="end" fill="#000">0.00</text>
<text x="1808.60" y="444.20" font-size="35.000" text-anchor="end" fill="#000">0.01</text>
<text x="1808.60" y="342.20" font-size="35.000" text-anchor="end" fill="#000">0.02</text>
<text x="1808.60" y="240.20" font-size="35.000" text-anchor="end" fill="#000">0.03</text>
<text x="1808.60" y="138.20" font-size="35.000" text-anchor="end" fill="#000">0.04</text>
<text x="1877.32" y="593.00" font-size="35.591" fill="#000">C</text>
<text x="1951.80" y="593.00" font-size="34.948" fill="#000">aUC</text>
<text x="1877.26" y="133.80" font-size="33.456" fill="#000">0.4850</text>
<text transform="translate(1678.50 378.96) rotate(-90)" x="0" y="0" font-size="34.528" fill="#000">ECAR</text>
<text transform="translate(1719.50 473.42) rotate(-90)" x="0" y="0" font-size="33.706" fill="#000">(mpH/min/ng DNA)</text>
<text x="1847.31" y="48.40" font-size="33.726" fill="#000">Glycolysis</text>
<text transform="translate(1633.05 37.18) scale(0.48855 0.52394)" x="0" y="0" font-size="100" font-weight="bold" fill="#000">C</text>
<text x="136.42" y="1363.20" font-size="34.400" text-anchor="end" fill="#000">0.00</text>
<text x="136.42" y="1283.80" font-size="34.400" text-anchor="end" fill="#000">0.01</text>
<text x="136.42" y="1204.40" font-size="34.400" text-anchor="end" fill="#000">0.02</text>
<text x="136.42" y="1125.00" font-size="34.400" text-anchor="end" fill="#000">0.03</text>
<text x="136.42" y="1045.60" font-size="34.400" text-anchor="end" fill="#000">0.04</text>
<text x="136.42" y="966.20" font-size="34.400" text-anchor="end" fill="#000">0.05</text>
<text x="202.74" y="1408.10" font-size="35.276" fill="#000">C</text>
<text x="275.34" y="1408.10" font-size="34.115" fill="#000">aUC</text>
<text x="212.16" y="964.50" font-size="33.569" fill="#000">0.0487</text>
<text transform="translate(51.30 1341.71) rotate(-90)" x="0" y="0" font-size="32.588" fill="#000">ECAR (mpH/min/ng DNA)</text>
<text x="74.63" y="880.30" font-size="33.317" fill="#000">Glycolytic capacity</text>
<text transform="translate(0.57 847.90) scale(0.49756 0.52029)" x="0" y="0" font-size="100" font-weight="bold" fill="#000">D</text>
<text x="577.71" y="1359.90" font-size="35.000" text-anchor="end" fill="#000">0.000</text>
<text x="577.71" y="1257.20" font-size="35.000" text-anchor="end" fill="#000">0.005</text>
<text x="577.71" y="1154.50" font-size="35.000" text-anchor="end" fill="#000">0.010</text>
<text x="577.71" y="1051.80" font-size="35.000" text-anchor="end" fill="#000">0.015</text>
<text x="577.71" y="949.10" font-size="35.000" text-anchor="end" fill="#000">0.020</text>
<text x="646.80" y="1405.60" font-size="35.906" fill="#000">C</text>
<text x="722.50" y="1405.60" font-size="35.000" fill="#000">aUC</text>
<text x="659.16" y="974.00" font-size="33.479" fill="#000">0.0015</text>
<text transform="translate(468.70 1328.24) rotate(-90)" x="0" y="0" font-size="32.993" fill="#000">ECAR (mpH/min/ng DNA)</text>
<text x="534.33" y="880.40" font-size="33.483" fill="#000">Glycolytic reserve</text>
<text transform="translate(427.76 849.80) scale(0.48319 0.51884)" x="0" y="0" font-size="100" font-weight="bold" fill="#000">E</text>
<text x="997.93" y="1362.60" font-size="35.300" text-anchor="end" fill="#000">0.00</text>
<text x="997.93" y="1225.63" font-size="35.300" text-anchor="end" fill="#000">0.01</text>
<text x="997.93" y="1088.67" font-size="35.300" text-anchor="end" fill="#000">0.02</text>
<text x="997.93" y="951.70" font-size="35.300" text-anchor="end" fill="#000">0.03</text>
<text x="1067.01" y="1408.80" font-size="35.748" fill="#000">C</text>
<text x="1142.20" y="1408.80" font-size="35.104" fill="#000">aUC</text>
<text x="1075.67" y="949.30" font-size="33.277" fill="#000">0.0396</text>
<text transform="translate(909.30 1340.19) rotate(-90)" x="0" y="0" font-size="33.644" fill="#000">ECAR (mpH/min/ng DNA)</text>
<text x="993.02" y="850.00" font-size="33.540" fill="#000">Non-glycolytic</text>
<text x="1009.85" y="889.90" font-size="33.711" fill="#000">acidification</text>
<text transform="translate(851.41 847.90) scale(0.50588 0.51884)" x="0" y="0" font-size="100" font-weight="bold" fill="#000">F</text>
<text x="1450.85" y="1362.20" font-size="30.000" text-anchor="end" fill="#000">0</text>
<text x="1450.85" y="1221.13" font-size="30.000" text-anchor="end" fill="#000">100</text>
<text x="1450.85" y="1080.07" font-size="30.000" text-anchor="end" fill="#000">200</text>
<text x="1450.85" y="939.00" font-size="30.000" text-anchor="end" fill="#000">300</text>
<text x="1522.28" y="1410.00" font-size="36.378" fill="#000">C</text>
<text x="1599.55" y="1410.00" font-size="36.146" fill="#000">aUC</text>
<text x="1533.16" y="896.30" font-size="33.612" fill="#000">0.0494</text>
<text transform="translate(1338.50 1293.14) rotate(-90)" x="0" y="0" font-size="34.706" fill="#000">Glucose Consumed</text>
<text transform="translate(1379.50 1244.20) rotate(-90)" x="0" y="0" font-size="34.978" fill="#000">(nM/ng DNA)</text>
<text transform="translate(1289.00 848.27) scale(0.50074 0.53099)" x="0" y="0" font-size="100" font-weight="bold" fill="#000">G</text>
<text x="1876.36" y="1361.80" font-size="30.200" text-anchor="end" fill="#000">0</text>
<text x="1876.36" y="1255.88" font-size="30.200" text-anchor="end" fill="#000">50</text>
<text x="1876.36" y="1149.95" font-size="30.200" text-anchor="end" fill="#000">100</text>
<text x="1876.36" y="1044.03" font-size="30.200" text-anchor="end" fill="#000">150</text>
<text x="1876.36" y="938.10" font-size="30.200" text-anchor="end" fill="#000">200</text>
<text x="1947.26" y="1409.50" font-size="36.850" fill="#000">C</text>
<text x="2024.86" y="1409.50" font-size="35.990" fill="#000">aUC</text>
<text x="1956.16" y="943.30" font-size="33.580" fill="#000">0.0373</text>
<text transform="translate(1763.20 1277.49) rotate(-90)" x="0" y="0" font-size="34.932" fill="#000">Lactate Produced</text>
<text transform="translate(1805.70 1241.65) rotate(-90)" x="0" y="0" font-size="34.191" fill="#000">(nM/ng DNA)</text>
<text transform="translate(1717.49 847.90) scale(0.49322 0.51884)" x="0" y="0" font-size="100" font-weight="bold" fill="#000">H</text>
</svg>
</body></html>
